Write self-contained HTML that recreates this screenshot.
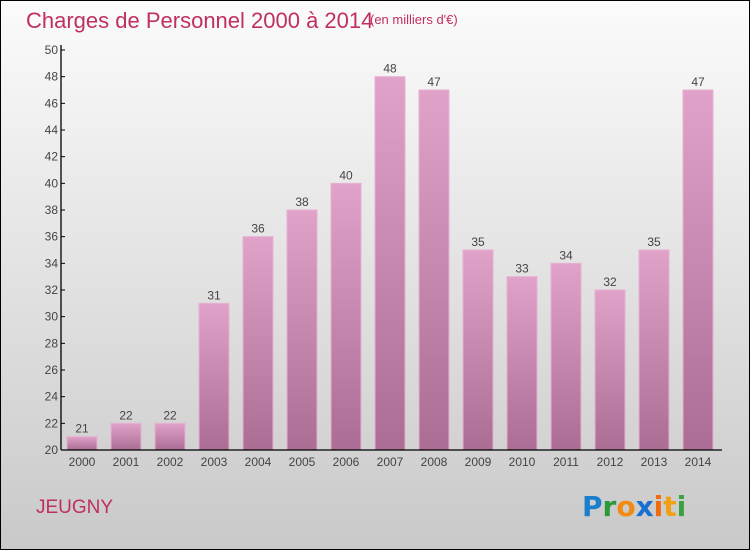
<!DOCTYPE html>
<html><head><meta charset="utf-8"><style>
body{margin:0}
svg{display:block;font-family:"Liberation Sans",sans-serif}
</style></head><body>
<svg width="750" height="550" viewBox="0 0 750 550">
<defs>
<linearGradient id="bg" x1="0" y1="0" x2="0" y2="1"><stop offset="0" stop-color="#fbfbfb"/><stop offset="1" stop-color="#c9c9c9"/></linearGradient>
<linearGradient id="bar" x1="0" y1="0" x2="0" y2="1"><stop offset="0" stop-color="#e0a2c8"/><stop offset="1" stop-color="#aa6d93"/></linearGradient>
</defs>
<rect x="0.5" y="0.5" width="749" height="549" fill="url(#bg)" stroke="#000"/>
<text x="26" y="28" font-size="22" fill="#c0305f">Charges de Personnel 2000 à 2014</text>
<text x="370" y="24" font-size="13" fill="#c0305f">(en milliers d'€)</text>
<g id="yaxis"></g>
<g id="bars"></g>
<g id="xaxis"></g>
<text x="36" y="513" font-size="19" fill="#c0305f">JEUGNY</text>
<g font-size="28" font-weight="bold" font-family="'DejaVu Sans',sans-serif">
<text x="582" y="516"><tspan fill="#1a7fd0">P</tspan><tspan fill="#2a9a3a">r</tspan><tspan fill="#f08a10">o</tspan><tspan fill="#1a6fd0">x</tspan><tspan fill="#f06a10">i</tspan><tspan fill="#f0a010">t</tspan><tspan fill="#3aa040">i</tspan></text>
</g>
</svg>
<script>
const categories=["2000","2001","2002","2003","2004","2005","2006","2007","2008","2009","2010","2011","2012","2013","2014"];
const values=[21,22,22,31,36,38,40,48,47,35,33,34,32,35,47];
const yTicks=[20,22,24,26,28,30,32,34,36,38,40,42,44,46,48,50];
{
const NS="http://www.w3.org/2000/svg";
const yMin=20,yMax=50,plotTop=50,plotBottom=450,axisX=61;
const y=v=>plotBottom-(v-yMin)/(yMax-yMin)*(plotBottom-plotTop);
const x=i=>67+i*44;
function mk(tag,attrs,parent,text){const e=document.createElementNS(NS,tag);for(const k in attrs)e.setAttribute(k,attrs[k]);if(text!==undefined)e.textContent=text;parent.appendChild(e);return e;}
const ya=document.getElementById('yaxis'),ba=document.getElementById('bars'),xa=document.getElementById('xaxis');
let l=mk('line',{x1:axisX,y1:plotTop-5,x2:axisX,y2:plotBottom,stroke:'#000','stroke-width':1.3},ya);


yTicks.forEach(t=>{
 const tk=mk('line',{x1:axisX,y1:y(t),x2:axisX+4,y2:y(t),stroke:'#000'},ya);
 
 
 const tx=mk('text',{x:axisX-3,y:y(t)+4,'font-size':12,fill:'#444','text-anchor':'end'},ya,t);
 
 
});
categories.forEach((c,i)=>{
 const r=mk('rect',{x:x(i),y:y(values[i]),width:30,height:plotBottom-y(values[i]),fill:'url(#bar)',stroke:'#e8b0d2','stroke-width':1},ba);
 
 
 const v=mk('text',{x:x(i)+15,y:y(values[i])-4,'font-size':12,fill:'#444','text-anchor':'middle'},ba,values[i]);
 
 
 const lb=mk('text',{x:x(i)+15,y:plotBottom+16,'font-size':12,fill:'#444','text-anchor':'middle'},xa,c);
 
 
});
l=mk('line',{x1:axisX,y1:plotBottom,x2:722,y2:plotBottom,stroke:'#000','stroke-width':1.3},xa);


}
</script>
</body></html>
